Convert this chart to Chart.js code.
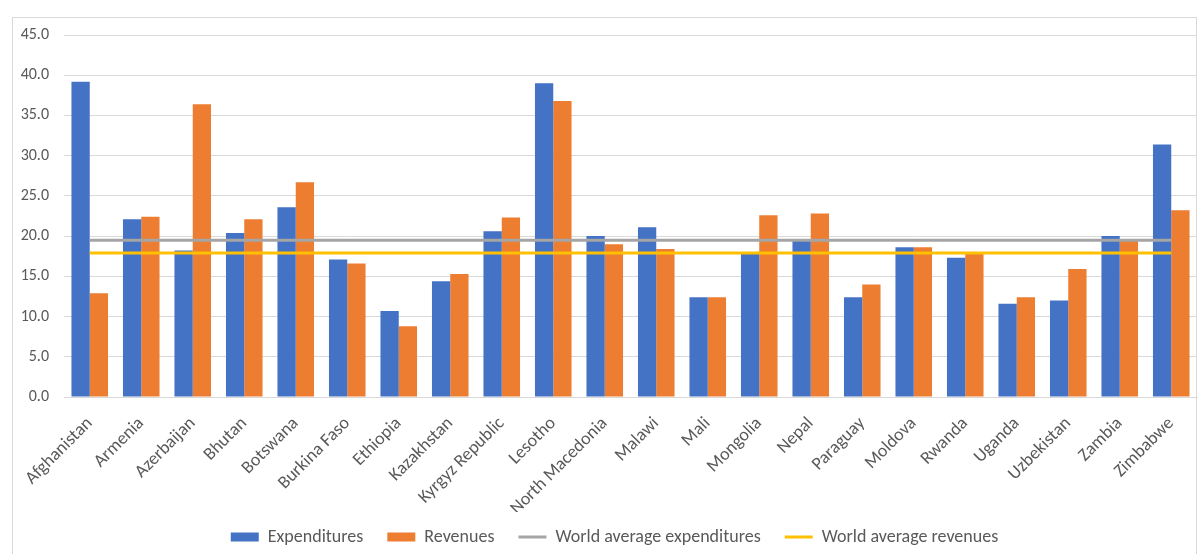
<!DOCTYPE html>
<html>
<head>
<meta charset="utf-8">
<script src="https://cdn.jsdelivr.net/npm/chart.js@4"></script>
<style>
  html, body { margin: 0; padding: 0; background: #fff; overflow: hidden; }
  #frame { position: absolute; left: 12px; top: 17px; width: 1185px; height: 600px; border: 1px solid #d9d9d9; box-sizing: border-box; }
  #wrap { position: absolute; left: 0; top: 0; width: 1199px; height: 564px; }
</style>
</head>
<body>
<div id="frame"></div>
<div id="wrap"><canvas id="chart"></canvas></div>
<script>
// Data
const countries = ['Afghanistan', 'Armenia', 'Azerbaijan', 'Bhutan', 'Botswana', 'Burkina Faso',
    'Ethiopia', 'Kazakhstan', 'Kyrgyz Republic', 'Lesotho', 'North Macedonia', 'Malawi', 'Mali',
    'Mongolia', 'Nepal', 'Paraguay', 'Moldova', 'Rwanda', 'Uganda', 'Uzbekistan', 'Zambia', 'Zimbabwe'];
const expenditures = [39.2, 22.1, 18.2, 20.4, 23.6, 17.1, 10.7, 14.4, 20.6, 39.0, 20.0, 21.1, 12.4,
    17.9, 19.4, 12.4, 18.6, 17.3, 11.6, 12.0, 20.0, 31.4];
const revenues = [12.9, 22.4, 36.4, 22.1, 26.7, 16.6, 8.8, 15.3, 22.3, 36.8, 19.0, 18.4, 12.4,
    22.6, 22.8, 14.0, 18.6, 17.9, 12.4, 15.9, 19.4, 23.2];
const worldAvgExpenditures = 19.5;
const worldAvgRevenues = 17.9;
const yTicks = [0, 5, 10, 15, 20, 25, 30, 35, 40, 45];

const FONT = 'Carlito, Calibri, Lato, sans-serif';
const TEXT = '#595959';

// nudge the legend a little, the way Excel places it
const legendNudge = {
    id: 'legendNudge',
    afterLayout(chart) {
        const lg = chart.legend;
        lg.left += 10; lg.right += 10;
        lg.top -= 8; lg.bottom -= 8;
    }
};

new Chart(document.getElementById('chart'), {
    data: {
        labels: countries,
        datasets: [{
            type: 'bar',
            label: 'Expenditures',
            data: expenditures,
            backgroundColor: '#4472C4',
            order: 2,
            legendStyle: 'rect'
        }, {
            type: 'bar',
            label: 'Revenues',
            data: revenues,
            backgroundColor: '#ED7D31',
            order: 2,
            legendStyle: 'rect'
        }, {
            type: 'line',
            label: 'World average expenditures',
            data: countries.map(() => worldAvgExpenditures),
            borderColor: '#A5A5A5',
            backgroundColor: '#A5A5A5',
            borderWidth: 3,
            pointRadius: 0,
            order: 1,
            legendStyle: 'line'
        }, {
            type: 'line',
            label: 'World average revenues',
            data: countries.map(() => worldAvgRevenues),
            borderColor: '#FFC000',
            backgroundColor: '#FFC000',
            borderWidth: 3,
            pointRadius: 0,
            order: 0,
            legendStyle: 'line'
        }]
    },
    plugins: [legendNudge],
    options: {
        responsive: true,
        maintainAspectRatio: false,
        animation: false,
        layout: {
            padding: { left: 12, right: 2, top: 35, bottom: 0 }
        },
        datasets: {
            bar: {
                categoryPercentage: 0.71,
                barPercentage: 1.0
            }
        },
        scales: {
            x: {
                grid: { display: false },
                border: { display: true, color: '#d9d9d9' },
                ticks: {
                    color: TEXT,
                    font: { family: FONT, size: 18 },
                    maxRotation: 45,
                    minRotation: 45,
                    autoSkip: false,
                    padding: 8
                },
                afterFit: (scale) => { scale.height = 115; }
            },
            y: {
                min: 0,
                max: 45,
                afterBuildTicks: (scale) => { scale.ticks = yTicks.map(v => ({ value: v })); },
                grid: { color: '#d9d9d9', drawTicks: false },
                border: { display: false },
                ticks: {
                    color: TEXT,
                    font: { family: FONT, size: 16 },
                    padding: 15,
                    callback: (v) => v.toFixed(1)
                },
                afterFit: (scale) => { scale.width = 52; }
            }
        },
        plugins: {
            tooltip: { enabled: false },
            legend: {
                position: 'bottom',
                labels: {
                    color: TEXT,
                    font: { family: FONT, size: 18 },
                    usePointStyle: true,
                    pointStyleWidth: 28,
                    boxHeight: 9,
                    padding: 24,
                    generateLabels: (chart) => chart.data.datasets.map((ds, i) => ({
                        text: ds.label,
                        datasetIndex: i,
                        fillStyle: ds.backgroundColor,
                        strokeStyle: ds.borderColor || ds.backgroundColor,
                        lineWidth: ds.legendStyle === 'line' ? 3 : 0,
                        pointStyle: ds.legendStyle,
                        fontColor: TEXT,
                        hidden: false
                    }))
                }
            }
        }
    }
});
</script>
</body>
</html>
